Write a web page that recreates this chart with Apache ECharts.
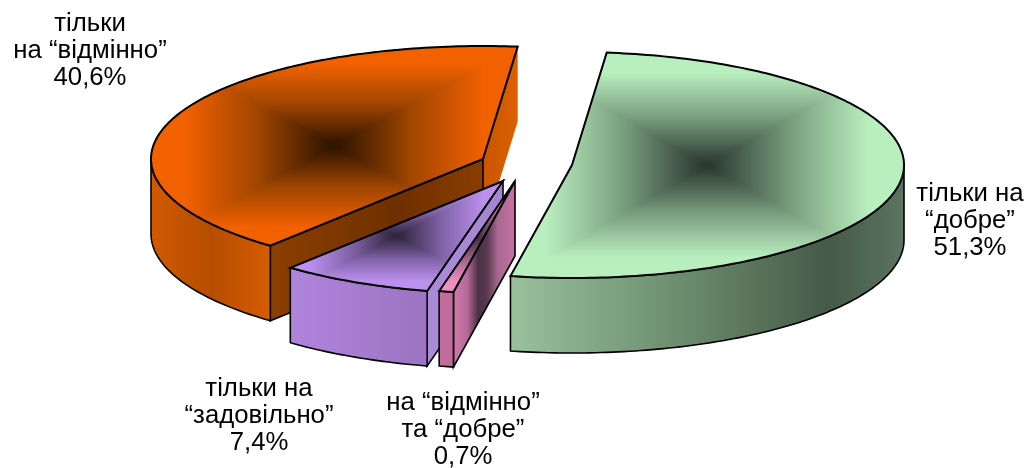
<!DOCTYPE html>
<html>
<head>
<meta charset="utf-8">
<style>
  html, body { margin: 0; padding: 0; background: #fff; }
  #chart { width: 1033px; height: 468px; }
</style>
<script src="https://cdn.jsdelivr.net/npm/echarts@6/dist/echarts.min.js"></script>
</head>
<body>
<div id="chart"></div>
<script>
// clockwise from the first slice, in percent
var sliceNames = ["тільки на\n“добре”", "на “відмінно”\nта “добре”", "тільки на\n“задовільно”", "тільки\nна “відмінно”"];
var sliceValues = [51.3, 0.7, 7.4, 40.6];
var valueLabels = ["51,3%", "0,7%", "7,4%", "40,6%"];

// layout of the tilted, exploded pie
var startAngle = 6;
var radiusX = 332;
var radiusY = 113;
var depth = 75;
var centers = [[572, 165], [515, 181], [503, 181], [483, 159]];
var labelPositions = [[970, 181], [463, 390], [259, 376], [90, 11]];

var palette = [
  {
    top: "#b9eebf", mid: "#789c7e", dark: "#28352c",
    side: [[0, "#9ac09c"], [0.4, "#6f9172"], [0.81, "#465a47"], [1, "#5a7560"]],
    faceStart: [],
    faceEnd: []
  },
  {
    top: "#ee90c4", mid: "#a3648b", dark: "#3a2a3a",
    side: [[0, "#c26d9e"], [1, "#be6c9b"]],
    faceStart: [[0, "#cd7aaa"], [0.22, "#b96a9a"], [0.4, "#4a3146"], [0.55, "#5a3a50"], [0.72, "#a8678f"], [1, "#c572a2"]],
    faceEnd: []
  },
  {
    top: "#bc90ee", mid: "#7f62a6", dark: "#2c2238",
    side: [[0, "#b084dd"], [0.4, "#a87dd2"], [1, "#9c74c2"]],
    faceStart: [[0, "#a98cd8"], [1, "#a585d2"]],
    faceEnd: []
  },
  {
    top: "#f26100", mid: "#a14600", dark: "#2a1200",
    side: [[0, "#d25a00"], [0.5, "#b54d00"], [1, "#d65c00"]],
    faceStart: [[0, "#8c3f00"], [0.6, "#6e3000"], [1, "#8a3d00"]],
    faceEnd: [[0, "#c95600"], [1, "#dc6000"]]
  }
];

var total = 0;
for (var n = 0; n < sliceValues.length; n++) {
  total += sliceValues[n];
}

function grad(x, y, x2, y2, stops) {
  return new echarts.graphic.LinearGradient(x, y, x2, y2, stops.map(function (s) {
    return { offset: s[0], color: s[1] };
  }), true);
}

function pointAt(center, angle) {
  var r = angle * Math.PI / 180;
  return [center[0] + radiusX * Math.sin(r), center[1] - radiusY * Math.cos(r)];
}

function arcPoints(center, a, b) {
  var pts = [];
  for (var t = a; t < b; t += 1) {
    pts.push(pointAt(center, t));
  }
  pts.push(pointAt(center, b));
  return pts;
}

function bounds(pts) {
  var xs = pts.map(function (p) { return p[0]; });
  var ys = pts.map(function (p) { return p[1]; });
  return [Math.min.apply(null, xs), Math.min.apply(null, ys), Math.max.apply(null, xs), Math.max.apply(null, ys)];
}

// keep the part of poly on the left of the edge a -> b
function clipEdge(poly, a, b) {
  function side(p) {
    return (b[0] - a[0]) * (p[1] - a[1]) - (b[1] - a[1]) * (p[0] - a[0]);
  }
  var out = [];
  for (var i = 0; i < poly.length; i++) {
    var p = poly[i];
    var q = poly[(i + 1) % poly.length];
    var sp = side(p);
    var sq = side(q);
    if (sp >= 0) out.push(p);
    if ((sp >= 0) !== (sq >= 0)) {
      var k = sp / (sp - sq);
      out.push([p[0] + (q[0] - p[0]) * k, p[1] + (q[1] - p[1]) * k]);
    }
  }
  return out;
}

function clipTriangle(poly, a, b, c) {
  return clipEdge(clipEdge(clipEdge(poly, a, b), b, c), c, a);
}

// rectangular path gradient: four triangles meeting in the middle of the bounding box
function topFace(pts, colors, z2) {
  var box = bounds(pts);
  var cx = (box[0] + box[2]) / 2;
  var cy = (box[1] + box[3]) / 2;
  var c = [cx, cy];
  var tl = [box[0], box[1]], tr = [box[2], box[1]], br = [box[2], box[3]], bl = [box[0], box[3]];
  var stops = [[0, colors.dark], [0.42, colors.mid], [0.82, colors.top], [1, colors.top]];
  var parts = [
    [c, tl, tr, cx, box[1]],
    [c, tr, br, box[2], cy],
    [c, br, bl, cx, box[3]],
    [c, bl, tl, box[0], cy]
  ];
  return parts.map(function (t) {
    var fill = grad(cx, cy, t[3], t[4], stops);
    return {
      type: "polygon",
      z2: z2,
      shape: { points: clipTriangle(pts, t[0], t[1], t[2]) },
      style: { fill: fill, stroke: fill, lineWidth: 1 }
    };
  });
}

function wall(pts, stops, z2, stroke) {
  var box = bounds(pts);
  var lower = pts.slice().reverse().map(function (p) { return [p[0], p[1] + depth]; });
  return {
    type: "polygon",
    z2: z2,
    shape: { points: pts.concat(lower) },
    style: { fill: grad(box[0], 0, box[2], 0, stops), stroke: stroke, lineWidth: 1.6 }
  };
}

function renderSlice(params, api) {
  var i = params.dataIndex;
  var before = 0;
  for (var k = 0; k < i; k++) {
    before += sliceValues[k];
  }
  var a = startAngle + before / total * 360;
  var b = a + api.value(0) / total * 360;
  var center = centers[i];
  var colors = palette[i];
  var z2 = 10 - i;
  var children = [];

  // radial walls, only the ones that face the viewer
  if (Math.sin(b * Math.PI / 180) > 0 && colors.faceEnd.length) {
    children.push(wall([pointAt(center, b), center], colors.faceEnd, z2, "none"));
  }
  if (Math.sin(a * Math.PI / 180) < 0 && colors.faceStart.length) {
    children.push(wall([center, pointAt(center, a)], colors.faceStart, z2, "#000"));
  }
  // outer wall, front half only
  var from = Math.max(a, 90);
  var to = Math.min(b, 270);
  if (to > from) {
    children.push(wall(arcPoints(center, from, to), colors.side, z2, "#000"));
  }

  var outline = [center].concat(arcPoints(center, a, b));
  children = children.concat(topFace(outline, colors, z2));
  children.push({
    type: "polygon",
    z2: z2,
    shape: { points: outline },
    style: { fill: "none", stroke: "#000", lineWidth: 2, lineJoin: "miter" }
  });

  children.push({
    type: "text",
    z2: 20,
    x: labelPositions[i][0],
    y: labelPositions[i][1],
    scaleX: 1.03,
    style: {
      text: sliceNames[i] + "\n" + valueLabels[i],
      fill: "#000",
      font: '25px "Liberation Sans", Arial, sans-serif',
      lineHeight: 27,
      align: "center",
      verticalAlign: "top"
    }
  });

  return { type: "group", children: children };
}

var chart = echarts.init(document.getElementById("chart"));
var option = {
  backgroundColor: "#fff",
  animation: false,
  series: [
    {
      type: "custom",
      coordinateSystem: "none",
      silent: true,
      renderItem: renderSlice,
      data: sliceValues.map(function (v) { return [v]; })
    }
  ]
};
chart.setOption(option);
</script>
</body>
</html>
